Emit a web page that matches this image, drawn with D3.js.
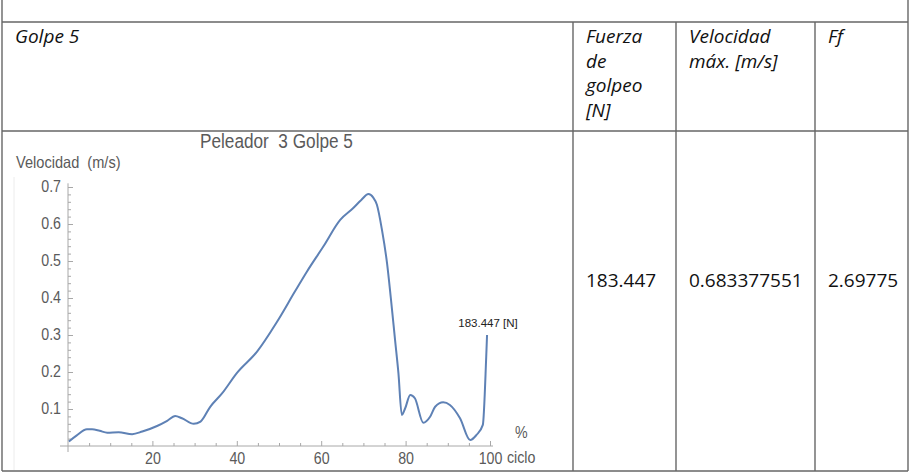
<!DOCTYPE html>
<html>
<head>
<meta charset="utf-8">
<script src="https://cdn.jsdelivr.net/npm/d3@7"></script>
<style>
  body { margin: 0; background: #fff; }
  .cell { font-family: "Open Sans", "Noto Sans", sans-serif; font-size: 19px; fill: #111; }
  .cell.it { font-style: italic; }
  .plot text { font-family: "Liberation Sans", Arial, sans-serif; fill: #5a5a5a; }
  /* the embedded picture is a little stretched vertically */
  .plot text.st { transform-box: fill-box; transform-origin: 50% 100%; transform: scaleY(1.13); }
</style>
</head>
<body>
<div id="chart"></div>
<script>
// curve: % of cycle vs speed (m/s)
const pct = [0.2, 2, 4.5, 5.7, 7.5, 9.3, 12, 15.2, 17.6, 21.1, 23.5, 25.4, 27, 29.8, 31.4,
  33.7, 36.5, 40, 44.8, 49.5, 53.8, 56.6, 60.5, 64.5, 67.6, 69.5, 71.2, 72.3, 73.2, 74.4,
  75.6, 76.5, 77.5, 78.3, 79.1, 79.9, 81.1, 82.2, 84.2, 85.8, 87, 88.9, 90.5, 92.9, 95.3,
  96.8, 98.3, 99.1, 99.3];
const vel = [0.012, 0.028, 0.045, 0.045, 0.041, 0.036, 0.037, 0.032, 0.039, 0.054, 0.068, 0.081, 0.075, 0.060, 0.066,
  0.106, 0.142, 0.197, 0.255, 0.335, 0.418, 0.471, 0.539, 0.611, 0.643, 0.665, 0.681, 0.672, 0.652, 0.584,
  0.494, 0.400, 0.287, 0.197, 0.084, 0.102, 0.138, 0.129, 0.063, 0.079, 0.106, 0.118, 0.111, 0.075, 0.016,
  0.030, 0.057, 0.240, 0.300];

const xTicks = [20, 40, 60, 80, 100];
const yTicks = [0.1, 0.2, 0.3, 0.4, 0.5, 0.6, 0.7];

// table content
const headers = [["Golpe 5"], ["Fuerza", "de", "golpeo", "[N]"], ["Velocidad", "máx. [m/s]"], ["Ff"]];
const values = ["", "183.447", "0.683377551", "2.69775"];
const plotTitle = "Peleador  3 Golpe 5";
const forceLabel = "183.447 [N]";

const W = 916, H = 474;
const svg = d3.select("#chart").append("svg").attr("width", W).attr("height", H);

// ---- table grid
const colX = [2, 573, 676, 815, 908];
const rowY = [22, 131, 471];
const grid = svg.append("g").attr("stroke", "#666").attr("stroke-width", 1.4);
grid.append("line").attr("x1", 2).attr("x2", 2).attr("y1", 0).attr("y2", 471);
grid.append("line").attr("x1", 908).attr("x2", 908).attr("y1", 0).attr("y2", 471);
colX.slice(1, 4).forEach(x => grid.append("line").attr("x1", x).attr("x2", x).attr("y1", 22).attr("y2", 471));
rowY.forEach(y => grid.append("line").attr("x1", 2).attr("x2", 908).attr("y1", y).attr("y2", y));

// header cells
headers.forEach((lines, i) => {
  lines.forEach((t, j) => {
    svg.append("text").attr("class", "cell it")
      .attr("x", colX[i] + 13).attr("y", 43 + j * 24.7).text(t);
  });
});
values.forEach((t, i) => {
  if (!t) return;
  svg.append("text").attr("class", "cell")
    .attr("x", colX[i] + 13).attr("y", 287).text(t);
});

// ---- embedded plot
const plot = svg.append("g").attr("class", "plot");
plot.append("line").attr("x1", 14).attr("x2", 14).attr("y1", 177).attr("y2", 470)
  .attr("stroke", "#ececec");

const x = d3.scaleLinear().domain([0, 100]).range([68, 490]);
const y = d3.scaleLinear().domain([0, 0.7]).range([446, 187]);

const xMinor = d3.range(5, 100, 5).filter(v => !xTicks.includes(v));
const yMinor = d3.range(2, 71, 2).map(v => v / 100).filter(v => !yTicks.some(t => Math.abs(t - v) < 1e-9));

plot.append("g").attr("transform", `translate(0,${y(0)})`)
  .call(d3.axisBottom(x).tickValues(xTicks).tickSize(-5).tickPadding(8).tickFormat(d3.format("d")));
plot.append("g").attr("transform", `translate(0,${y(0)})`)
  .call(d3.axisBottom(x).tickValues(xMinor).tickSize(-3).tickFormat(""));
plot.append("g").attr("transform", `translate(${x(0)},0)`)
  .call(d3.axisLeft(y).tickValues(yTicks).tickSize(-5).tickPadding(7).tickFormat(d3.format(".1f")));
plot.append("g").attr("transform", `translate(${x(0)},0)`)
  .call(d3.axisLeft(y).tickValues(yMinor).tickSize(-3).tickFormat(""));

plot.selectAll(".domain").remove();
plot.selectAll(".tick line").attr("stroke", "#a8a8a8");
plot.selectAll(".tick text").attr("class", "st").attr("font-size", 14.2).attr("fill", "#5a5a5a")
  .attr("font-family", "Liberation Sans, Arial, sans-serif");

// axis lines run a bit past the origin
plot.append("line").attr("x1", x(0) - 8).attr("x2", x(100) + 3)
  .attr("y1", y(0)).attr("y2", y(0)).attr("stroke", "#a8a8a8");
plot.append("line").attr("x1", x(0)).attr("x2", x(0))
  .attr("y1", y(0) + 6).attr("y2", y(0.71)).attr("stroke", "#a8a8a8");

plot.append("text").attr("class", "st").attr("x", 200).attr("y", 148).attr("font-size", 17.2).text(plotTitle)
  .style("white-space", "pre");
plot.append("text").attr("class", "st").attr("x", 16).attr("y", 168).attr("font-size", 14.6).text("Velocidad  (m/s)")
  .style("white-space", "pre");
plot.append("text").attr("class", "st").attr("x", 515).attr("y", 438).attr("font-size", 14.2).text("%");
plot.append("text").attr("class", "st").attr("x", 507).attr("y", 463).attr("font-size", 14.2).text("ciclo");

const pts = pct.map((p, i) => [p, vel[i]]);
plot.append("path").datum(pts)
  .attr("fill", "none").attr("stroke", "#5e81b5").attr("stroke-width", 2)
  .attr("stroke-linejoin", "round")
  .attr("d", d3.line().x(d => x(d[0])).y(d => y(d[1])).curve(d3.curveMonotoneX));

const last = pts[pts.length - 1];
plot.append("text").attr("x", x(last[0]) + 1).attr("y", y(last[1]) - 8)
  .attr("text-anchor", "middle").attr("font-size", 11.5)
  .attr("font-family", "DejaVu Sans, sans-serif").style("fill", "#222")
  .text(forceLabel);
</script>
</body>
</html>
